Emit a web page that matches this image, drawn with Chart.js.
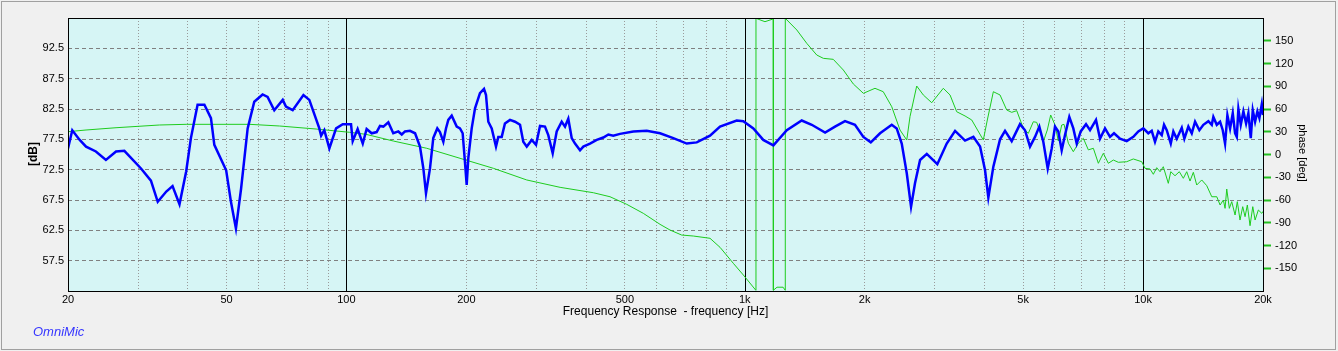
<!DOCTYPE html>
<html>
<head>
<meta charset="utf-8">
<script src="https://cdn.jsdelivr.net/npm/chart.js@4.4.1/dist/chart.umd.min.js"></script>
<style>
html, body { margin: 0; padding: 0; background: #f0f0f0; }
canvas { display: block; }
</style>
</head>
<body>
<canvas id="fr" width="1338" height="351"></canvas>
<script>
// magnitude curve (Hz / dB)
var magFreq = [20, 20.5, 21.4, 22.2, 23.5, 24.9, 26.4, 27.7, 30.5, 32.3,
    33.6, 35.3, 36.6, 38.1, 39.6, 40.7, 42.3, 44.0, 45.7, 46.6,
    49.9, 51.3, 52.8, 54.4, 56.5, 58.7, 61.6, 63.4, 65.9, 69.2,
    70.5, 73.3, 78.0, 80.7, 85.5, 86.4, 88.0, 90.6, 94.2, 97.9,
    102.7, 103.7, 106.7, 109.9, 112.4, 115.7, 119.1, 121.4, 123.8, 127.4,
    131.1, 135.0, 137.7, 140.3, 144.4, 148.7, 153.0, 156.0, 158.4, 162.1,
    165.2, 169.1, 171.7, 175.1, 177.8, 180.2, 183.8, 189.2, 192.8, 195.8,
    198.4, 200.4, 202.3, 206.3, 210.3, 216.4, 221.5, 224.1, 227.1, 231.6,
    237.4, 240.6, 245.4, 250.0, 257.4, 265.0, 272.8, 278.0, 283.6, 291.9,
    299.2, 306.2, 315.1, 321.2, 329.5, 337.2, 347.1, 353.8, 360.6, 367.8,
    374.9, 385.9, 393.3, 408.8, 425.0, 441.5, 454.5, 467.7, 486.2, 525.2,
    567.4, 612.8, 661.5, 715.1, 757.6, 818.0, 866.8, 954.5, 991.8, 1051,
    1113, 1180, 1275, 1390, 1473, 1591, 1685, 1785, 1891, 1985,
    2072, 2186, 2339, 2407, 2478, 2551, 2615, 2676, 2755, 2864,
    3044, 3214, 3373, 3573, 3749, 3897, 4011, 4088, 4208, 4374,
    4502, 4679, 4909, 5053, 5201, 5354, 5489, 5617, 5762, 5896,
    6010, 6126, 6247, 6368, 6528, 6681, 6814, 6973, 7190, 7358,
    7617, 7796, 8024, 8260, 8453, 8752, 9097, 9451, 9728, 10013,
    10307, 10512, 10713, 10920, 11138, 11287, 11465, 11735, 11912, 12148,
    12505, 12694, 12992, 13249, 13505, 13845, 14168, 14585, 14874, 15011,
    15311, 15606, 15849, 16063, 16279, 16535, 16792, 17018, 17188, 17347,
    17588, 17857, 18139, 18379, 18636, 18852, 19106, 19362, 19587, 19860,
    20000];
var magDb = [76.0, 79.0, 77.4, 76.3, 75.5, 74.1, 75.5, 75.6, 72.7, 70.7,
    67.2, 68.9, 69.8, 66.8, 72.2, 77.7, 83.2, 83.2, 81.0, 76.6,
    72.4, 67.2, 62.8, 69.4, 79.3, 83.7, 84.9, 84.5, 82.3, 84.0,
    82.9, 82.3, 84.8, 84.0, 79.3, 78.1, 79.0, 76.0, 79.3, 80.0,
    80.0, 77.2, 79.2, 76.8, 79.2, 78.5, 78.7, 79.7, 79.6, 80.3,
    78.5, 78.8, 78.3, 78.8, 78.9, 78.5, 76.3, 72.7, 68.6, 72.7,
    77.7, 79.3, 78.7, 77.1, 79.3, 80.7, 81.4, 79.6, 79.3, 78.5,
    73.8, 70.0, 74.4, 79.3, 82.6, 85.1, 85.8, 84.8, 80.4, 79.3,
    76.3, 77.9, 77.9, 80.1, 80.7, 80.4, 79.9, 77.1, 76.3, 77.4,
    76.6, 79.7, 79.6, 78.2, 75.2, 78.8, 80.4, 79.6, 80.9, 77.7,
    76.8, 75.7, 76.3, 76.8, 77.4, 77.8, 78.3, 78.1, 78.4, 78.8,
    78.9, 78.5, 77.7, 76.8, 77.0, 78.1, 79.6, 80.6, 80.5, 79.3,
    77.4, 76.5, 79.0, 80.6, 79.9, 78.6, 79.6, 80.5, 79.9, 77.9,
    77.0, 78.5, 79.9, 79.3, 76.8, 71.9, 66.4, 70.3, 74.1, 75.1,
    73.4, 76.8, 78.9, 77.3, 77.9, 76.3, 72.4, 67.9, 73.0, 77.5,
    78.9, 77.2, 80.0, 79.0, 76.3, 77.9, 79.6, 77.1, 72.7, 76.0,
    79.6, 78.8, 75.7, 78.2, 81.2, 79.3, 76.8, 78.8, 80.0, 79.0,
    80.7, 77.6, 79.3, 77.9, 78.5, 77.6, 77.2, 77.9, 78.8, 79.3,
    78.5, 78.9, 77.1, 78.8, 78.2, 79.9, 79.0, 76.8, 78.8, 77.6,
    79.4, 77.6, 79.6, 78.5, 80.4, 79.0, 79.9, 80.5, 79.9, 81.2,
    79.9, 80.4, 79.0, 76.8, 81.5, 79.3, 81.8, 78.5, 77.9, 82.5,
    79.9, 82.1, 80.1, 81.8, 77.7, 82.3, 80.4, 82.1, 81.0, 83.3,
    81.5];

// phase curve (Hz / deg), wraps at +-180
var phaseFreq = [20, 22.2, 26.4, 33.9, 39.6, 57.1, 67.9, 83.9, 101.7, 112.0,
    131.1, 159.1, 192.8, 233.8, 283.6, 343.9, 416.8, 458.9, 505.4, 556.4,
    612.8, 649.1, 694.4, 742.7, 818.0, 866.8, 936.0, 991.8, 1066, 1067,
    1124, 1171, 1179, 1180, 1205, 1248, 1263, 1264, 1351, 1431,
    1516, 1575, 1668, 1768, 1873, 1985, 2123, 2227, 2339, 2453,
    2551, 2599, 2702, 2807, 2947, 3151, 3276, 3405, 3573, 3714,
    3971, 4064, 4208, 4374, 4546, 4679, 4817, 5005, 5151, 5302,
    5407, 5617, 5748, 5862, 6010, 6126, 6247, 6332, 6492, 6681,
    6877, 7079, 7287, 7501, 7721, 7947, 8180, 8421, 8668, 9097,
    9451, 9922, 10111, 10409, 10610, 10820, 11029, 11240, 11569, 11735,
    12027, 12329, 12619, 12869, 13117, 13370, 13635, 14036, 14448, 14874,
    15311, 15606, 15905, 16063, 16218, 16463, 16693, 17018, 17241, 17512,
    17789, 18029, 18271, 18556, 18852, 19106, 19470, 19860, 20000];
var phaseDeg = [30.1, 32.3, 35.3, 38.9, 39.8, 39.8, 37.6, 33.6, 29.3, 26.6,
    17.8, 8.2, -5.0, -18.2, -33.6, -43.3, -50.4, -55.7, -65.7, -77.6,
    -92.1, -99.6, -106.2, -107.5, -110.5, -122.4, -143.5, -158.9, -179, 179.6,
    175.1, 178.3, 179, -179, -175, -175, -179, 179.6, 164.2, 146.6,
    131.2, 126.8, 125.5, 111.4, 93.0, 80.7, 87.3, 82.8, 63.0, 32.3,
    19.1, 49.9, 90.3, 78.5, 68.3, 87.3, 78.5, 56.4, 50.8, 45.5,
    19.1, 45.5, 82.8, 78.5, 58.7, 55.6, 57.8, 34.5, 27.9, 43.2,
    42.4, 16.9, 32.3, 52.1, 38.9, 17.8, 38.9, 39.8, 14.8, 3.7,
    14.8, 21.4, 6.1, 8.2, -11.6, 1.6, -11.6, -7.3, -10.3, -9.5,
    -5.9, -9.5, -18.2, -19.1, -26.1, -17.4, -22.7, -16.1, -38.0, -22.7,
    -28.0, -22.7, -31.4, -22.7, -35.0, -23.5, -40.2, -33.6, -41.1, -55.7,
    -55.7, -66.6, -60.0, -71.0, -45.5, -71.0, -62.2, -79.8, -62.2, -86.4,
    -68.8, -82.0, -66.6, -93.9, -68.8, -86.4, -73.2, -77.6, -75];

var dbTicks = [57.5, 62.5, 67.5, 72.5, 77.5, 82.5, 87.5, 92.5];
var phaseTicks = [-150, -120, -90, -60, -30, 0, 30, 60, 90, 120, 150];
var gridFreqs = [20, 30, 40, 50, 60, 70, 80, 90, 100, 200, 300, 400, 500, 600, 700, 800, 900,
    1000, 2000, 3000, 4000, 5000, 6000, 7000, 8000, 9000, 10000, 20000];
var decadeFreqs = [100, 1000, 10000];
var labelFreqs = [20, 50, 100, 200, 500, 1000, 2000, 5000, 10000, 20000];
var labelTexts = ["20", "50", "100", "200", "500", "1k", "2k", "5k", "10k", "20k"];

var FONT = '"Liberation Sans", Arial, sans-serif';

function toPoints(xs, ys) {
    var pts = [];
    for (var i = 0; i < xs.length; i++) {
        pts.push({x: xs[i], y: ys[i]});
    }
    return pts;
}

function fixTicks(values) {
    return function (scale) {
        scale.ticks = values.map(function (v) { return {value: v}; });
    };
}

var framePlugin = {
    id: "frame",
    beforeDraw: function (chart) {
        var ctx = chart.ctx, a = chart.chartArea;
        ctx.save();
        ctx.fillStyle = "#f0f0f0";
        ctx.fillRect(0, 0, chart.width, chart.height);
        ctx.fillStyle = "#d6f5f5";
        ctx.fillRect(a.left, a.top, a.right - a.left, a.bottom - a.top);
        ctx.restore();
    },
    beforeDatasetsDraw: function (chart) {
        var ctx = chart.ctx, a = chart.chartArea, xs = chart.scales.x;
        ctx.save();
        ctx.strokeStyle = "#000";
        ctx.lineWidth = 1;
        decadeFreqs.forEach(function (f) {
            var px = Math.round(xs.getPixelForValue(f)) + 0.5;
            ctx.beginPath();
            ctx.moveTo(px, a.top);
            ctx.lineTo(px, a.bottom);
            ctx.stroke();
        });
        ctx.restore();
    },
    afterDraw: function (chart) {
        var ctx = chart.ctx, a = chart.chartArea;
        ctx.save();
        ctx.strokeStyle = "#000";
        ctx.lineWidth = 1;
        ctx.strokeRect(a.left + 0.5, a.top + 0.5, a.right - a.left, a.bottom - a.top);

        ctx.fillStyle = "#000";
        ctx.textAlign = "center";
        ctx.textBaseline = "middle";
        ctx.font = "12px " + FONT;
        ctx.fillText("Frequency Response  - frequency [Hz]", (a.left + a.right) / 2, 312);

        ctx.save();
        ctx.translate(34, 154);
        ctx.rotate(-Math.PI / 2);
        ctx.font = "bold 12px " + FONT;
        ctx.fillText("[dB]", 0, 0);
        ctx.restore();

        ctx.save();
        ctx.translate(1302, 153);
        ctx.rotate(Math.PI / 2);
        ctx.font = "11px " + FONT;
        ctx.fillText("phase [deg]", 0, 0);
        ctx.restore();

        ctx.textAlign = "left";
        ctx.fillStyle = "#3636ff";
        ctx.font = "italic 13px " + FONT;
        ctx.fillText("OmniMic", 33, 332);

        ctx.strokeStyle = "#a0a0a0";
        ctx.strokeRect(1.5, 1.5, 1334, 348);
        ctx.restore();
    }
};

var tickFont = {family: FONT, size: 11};

var config = {
    type: "line",
    data: {
        datasets: [{
            label: "SPL",
            data: toPoints(magFreq, magDb),
            yAxisID: "y",
            borderColor: "#0000ff",
            borderWidth: 2.5,
            pointRadius: 0,
            tension: 0,
            fill: false
        }, {
            label: "phase",
            data: toPoints(phaseFreq, phaseDeg),
            yAxisID: "phase",
            borderColor: "#1ecc1e",
            borderWidth: 1,
            pointRadius: 0,
            tension: 0,
            fill: false
        }]
    },
    options: {
        responsive: false,
        animation: false,
        devicePixelRatio: 1,
        events: [],
        layout: {padding: {top: 18, left: 0, right: 0, bottom: 0}},
        plugins: {legend: {display: false}, tooltip: {enabled: false}},
        scales: {
            x: {
                type: "logarithmic",
                min: 20,
                max: 20000,
                afterBuildTicks: fixTicks(gridFreqs),
                afterFit: function (s) { s.height = 60; },
                grid: {
                    drawTicks: false,
                    color: function (c) {
                        var v = c.tick ? c.tick.value : 0;
                        if (v === 20 || v === 20000 || decadeFreqs.indexOf(v) >= 0) {
                            return "rgba(0,0,0,0)";
                        }
                        return "#9a9a9a";
                    }
                },
                border: {display: false, dash: [1, 2]},
                ticks: {
                    autoSkip: false,
                    maxRotation: 0,
                    padding: 2,
                    color: "#000",
                    font: tickFont,
                    callback: function (v) {
                        var i = labelFreqs.indexOf(v);
                        return i >= 0 ? labelTexts[i] : "";
                    }
                }
            },
            y: {
                position: "left",
                min: 52.5,
                max: 97.5,
                afterBuildTicks: fixTicks(dbTicks),
                afterFit: function (s) { s.width = 68; },
                grid: {drawTicks: false, color: "#808080"},
                border: {display: false, dash: [4, 3]},
                ticks: {
                    padding: 4,
                    color: "#000",
                    font: tickFont,
                    callback: function (v) { return v.toFixed(1); }
                }
            },
            phase: {
                position: "right",
                min: -180,
                max: 180,
                afterBuildTicks: fixTicks(phaseTicks),
                afterFit: function (s) { s.width = 75; },
                grid: {drawOnChartArea: false, drawTicks: true, tickLength: 8, tickColor: "#22c022", tickWidth: 2},
                border: {display: false},
                ticks: {padding: 4, color: "#000", font: tickFont}
            }
        }
    },
    plugins: [framePlugin]
};

var chart = new Chart(document.getElementById("fr").getContext("2d"), config);
</script>
</body>
</html>
